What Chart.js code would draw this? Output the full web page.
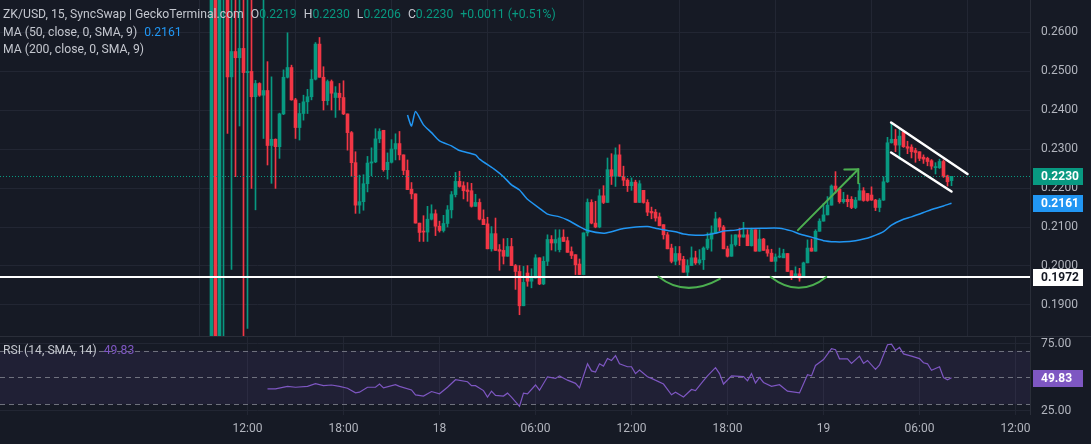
<!DOCTYPE html>
<html>
<head>
<meta charset="utf-8">
<script src="https://cdn.jsdelivr.net/npm/chart.js@4.4.1/dist/chart.umd.min.js"></script>
<style>
  html, body { margin: 0; padding: 0; background: #161a25; }
  #wrap { position: relative; width: 1091px; height: 444px; overflow: hidden; font-family: Roboto, "Noto Sans", sans-serif; }
  canvas { position: absolute; left: 0; }
  #main { top: 0; }
  #rsi { top: 337px; }
  .sep { position: absolute; left: 0; top: 336px; width: 1091px; height: 1px; background: #2a2e39; }
  .legend { position: absolute; left: 3px; font-size: 12.2px; line-height: 17px; color: #c3c6ce; white-space: nowrap; z-index: 5; }
  .legend span { margin-left: 7px; }
  .legend i { font-style: normal; }
  .g { color: #089981; }
  .b { color: #2196f3; }
  .p { color: #7e57c2; }
</style>
</head>
<body>
<div id="wrap">
  <canvas id="main" width="1091" height="336"></canvas>
  <div class="sep"></div>
  <canvas id="rsi" width="1091" height="107"></canvas>
  <div class="legend" style="top:6px">ZK/USD, 15, SyncSwap | GeckoTerminal.com<span>O<i class="g">0.2219</i></span><span>H<i class="g">0.2230</i></span><span>L<i class="g">0.2206</i></span><span>C<i class="g">0.2230</i></span><span class="g">+0.0011 (+0.51%)</span></div>
  <div class="legend" style="top:24px">MA (50, close, 0, SMA, 9)<span class="b">0.2161</span></div>
  <div class="legend" style="top:41px">MA (200, close, 0, SMA, 9)</div>
  <div class="legend" style="top:342px">RSI (14, SMA, 14)<span class="p">49.83</span></div>
</div>
<script>
// 15 minute candles, index 0 = 17th 09:45
var opens = [
  0.150, 0.300, 0.150, 0.285, 0.285, 0.2485, 0.2550, 0.2534, 0.2558, 0.2496,
  0.2499, 0.2434, 0.2468, 0.2438, 0.2450, 0.2309, 0.2325, 0.2306, 0.2390, 0.2484,
  0.2509, 0.2426, 0.2355, 0.2391, 0.2421, 0.2434, 0.2479, 0.2569, 0.2484, 0.2424,
  0.2473, 0.2432, 0.2443, 0.2432, 0.2390, 0.2342, 0.2265, 0.2156, 0.2165, 0.2211,
  0.2264, 0.2267, 0.2326, 0.2348, 0.2247, 0.2266, 0.2300, 0.2314, 0.2285, 0.2245,
  0.2197, 0.2185, 0.2110, 0.2088, 0.2087, 0.2120, 0.2134, 0.2102, 0.2091, 0.2109,
  0.2144, 0.2183, 0.2217, 0.2206, 0.2195, 0.2193, 0.2153, 0.2163, 0.2120, 0.2108,
  0.2044, 0.2083, 0.2042, 0.2040, 0.2025, 0.2050, 0.2001, 0.1986, 0.1898, 0.1982,
  0.1961, 0.1969, 0.2021, 0.1954, 0.2012, 0.2068, 0.2059, 0.2042, 0.2074, 0.2065,
  0.2037, 0.2029, 0.2005, 0.1978, 0.2085, 0.2163, 0.2110, 0.2100, 0.2180, 0.2163,
  0.2247, 0.2230, 0.2285, 0.2230, 0.2220, 0.2206, 0.2215, 0.2163, 0.2194, 0.2163,
  0.2140, 0.2138, 0.2126, 0.2106, 0.2080, 0.2046, 0.2012, 0.2032, 0.2017, 0.1984,
  0.2001, 0.2021, 0.2008, 0.2016, 0.2046, 0.2069, 0.2085, 0.2121, 0.2100, 0.2044,
  0.2025, 0.2055, 0.2080, 0.2074, 0.2080, 0.2052, 0.2093, 0.2038, 0.2069, 0.2042,
  0.2033, 0.2012, 0.2023, 0.2021, 0.2032, 0.1988, 0.1975, 0.1980, 0.1972, 0.2008,
  0.2046, 0.2038, 0.2089, 0.2115, 0.2131, 0.2156, 0.2205, 0.2197, 0.2165, 0.2171,
  0.2171, 0.2150, 0.2169, 0.2193, 0.2186, 0.2182, 0.2169, 0.2150, 0.2169, 0.2216,
  0.2316, 0.2325, 0.2310, 0.2344, 0.2306, 0.2305, 0.2296, 0.2293, 0.2279, 0.2276,
  0.2270, 0.2252, 0.2252, 0.2268, 0.2231, 0.2219
];
var highs = [
  0.300, 0.300, 0.300, 0.300, 0.290, 0.290, 0.290, 0.290, 0.290, 0.290,
  0.290, 0.2476, 0.2470, 0.290, 0.2524, 0.2485, 0.2326, 0.2392, 0.2503, 0.2598,
  0.2515, 0.2430, 0.2417, 0.2438, 0.2453, 0.2503, 0.2573, 0.2586, 0.2511, 0.2477,
  0.2477, 0.2460, 0.2468, 0.2475, 0.2390, 0.2345, 0.2293, 0.2233, 0.2234, 0.2281,
  0.2303, 0.2352, 0.2352, 0.2348, 0.2290, 0.2324, 0.2339, 0.2345, 0.2285, 0.2272,
  0.2214, 0.2185, 0.2110, 0.2129, 0.2153, 0.2157, 0.2144, 0.2115, 0.2130, 0.2155,
  0.2191, 0.2240, 0.2243, 0.2216, 0.2214, 0.2212, 0.2184, 0.2172, 0.2144, 0.2125,
  0.2101, 0.2123, 0.2055, 0.2070, 0.2071, 0.2071, 0.2004, 0.2001, 0.1999, 0.2001,
  0.1993, 0.2029, 0.2021, 0.2024, 0.2080, 0.2078, 0.2093, 0.2093, 0.2093, 0.2074,
  0.2049, 0.2029, 0.2018, 0.2085, 0.2172, 0.2170, 0.2166, 0.2196, 0.2206, 0.2277,
  0.2288, 0.2303, 0.2311, 0.2256, 0.2224, 0.2226, 0.2220, 0.2219, 0.2194, 0.2170,
  0.2151, 0.2145, 0.2136, 0.2106, 0.2086, 0.2056, 0.2050, 0.2050, 0.2025, 0.2016,
  0.2049, 0.2038, 0.2042, 0.2049, 0.2085, 0.2103, 0.2138, 0.2124, 0.2104, 0.2051,
  0.2080, 0.2080, 0.2097, 0.2112, 0.2093, 0.2097, 0.2093, 0.2093, 0.2071, 0.2052,
  0.2043, 0.2031, 0.2046, 0.2043, 0.2032, 0.1988, 0.1998, 0.1994, 0.2010, 0.2067,
  0.2069, 0.2093, 0.2121, 0.2160, 0.2178, 0.2208, 0.2242, 0.2197, 0.2189, 0.2182,
  0.2178, 0.2176, 0.2212, 0.2201, 0.2186, 0.2203, 0.2171, 0.2173, 0.2229, 0.2330,
  0.2368, 0.2350, 0.2350, 0.2348, 0.2320, 0.2311, 0.2302, 0.2293, 0.2285, 0.2279,
  0.2273, 0.2265, 0.2274, 0.2272, 0.2233, 0.2230
];
var lows = [
  0.150, 0.150, 0.150, 0.150, 0.2340, 0.1991, 0.2229, 0.2359, 0.1700, 0.1840,
  0.2199, 0.2144, 0.2435, 0.2327, 0.2259, 0.2212, 0.2199, 0.2276, 0.2388, 0.2482,
  0.2425, 0.2327, 0.2323, 0.2374, 0.2391, 0.2426, 0.2477, 0.2484, 0.2400, 0.2413,
  0.2400, 0.2381, 0.2400, 0.2388, 0.2297, 0.2229, 0.2135, 0.2135, 0.2143, 0.2190,
  0.2231, 0.2265, 0.2316, 0.2243, 0.2223, 0.2264, 0.2272, 0.2272, 0.2234, 0.2196,
  0.2172, 0.2110, 0.2063, 0.2063, 0.2063, 0.2118, 0.2078, 0.2087, 0.2087, 0.2100,
  0.2123, 0.2177, 0.2202, 0.2172, 0.2166, 0.2151, 0.2153, 0.2118, 0.2106, 0.2044,
  0.2038, 0.2040, 0.1989, 0.2005, 0.2025, 0.2001, 0.1940, 0.1875, 0.1898, 0.1948,
  0.1944, 0.1969, 0.1952, 0.1952, 0.2001, 0.2041, 0.2038, 0.2036, 0.2063, 0.2035,
  0.2019, 0.1978, 0.1978, 0.1978, 0.2077, 0.2108, 0.2098, 0.2098, 0.2160, 0.2163,
  0.2209, 0.2204, 0.2230, 0.2206, 0.2191, 0.2194, 0.2163, 0.2163, 0.2161, 0.2129,
  0.2121, 0.2115, 0.2103, 0.2069, 0.2044, 0.2008, 0.2003, 0.2003, 0.1984, 0.1974,
  0.2001, 0.2004, 0.2004, 0.1991, 0.2042, 0.2038, 0.2085, 0.2090, 0.2044, 0.2023,
  0.2025, 0.2051, 0.2052, 0.2074, 0.2052, 0.2051, 0.2038, 0.2038, 0.2040, 0.2025,
  0.2012, 0.1986, 0.2021, 0.2021, 0.1986, 0.1965, 0.1972, 0.1961, 0.1972, 0.2008,
  0.2038, 0.2038, 0.2089, 0.2115, 0.2131, 0.2156, 0.2187, 0.2161, 0.2161, 0.2152,
  0.2147, 0.2147, 0.2169, 0.2166, 0.2166, 0.2168, 0.2142, 0.2139, 0.2168, 0.2214,
  0.2315, 0.2293, 0.2274, 0.2304, 0.2288, 0.2277, 0.2266, 0.2270, 0.2263, 0.2257,
  0.2248, 0.2236, 0.2250, 0.2227, 0.2205, 0.2206
];
var closes = [
  0.300, 0.150, 0.300, 0.290, 0.2485, 0.2550, 0.2534, 0.2558, 0.2496, 0.2499,
  0.2434, 0.2468, 0.2438, 0.2450, 0.2309, 0.2325, 0.2306, 0.2390, 0.2484, 0.2509,
  0.2426, 0.2355, 0.2391, 0.2421, 0.2434, 0.2479, 0.2569, 0.2484, 0.2424, 0.2473,
  0.2443, 0.2444, 0.2432, 0.2390, 0.2342, 0.2265, 0.2156, 0.2165, 0.2211, 0.2264,
  0.2267, 0.2326, 0.2345, 0.2247, 0.2266, 0.2300, 0.2314, 0.2285, 0.2245, 0.2196,
  0.2185, 0.2110, 0.2086, 0.2087, 0.2120, 0.2134, 0.2102, 0.2091, 0.2109, 0.2144,
  0.2183, 0.2217, 0.2204, 0.2193, 0.2191, 0.2153, 0.2163, 0.2120, 0.2106, 0.2044,
  0.2083, 0.2040, 0.2038, 0.2025, 0.2050, 0.2001, 0.1986, 0.1898, 0.1958, 0.1961,
  0.1969, 0.2021, 0.1954, 0.2012, 0.2068, 0.2059, 0.2068, 0.2072, 0.2063, 0.2035,
  0.2027, 0.2003, 0.1978, 0.2085, 0.2163, 0.2110, 0.2100, 0.2180, 0.2163, 0.2247,
  0.2230, 0.2285, 0.2230, 0.2220, 0.2206, 0.2215, 0.2163, 0.2211, 0.2163, 0.2138,
  0.2136, 0.2123, 0.2103, 0.2080, 0.2044, 0.2012, 0.2032, 0.2015, 0.1984, 0.2001,
  0.2021, 0.2008, 0.2016, 0.2046, 0.2069, 0.2085, 0.2121, 0.2100, 0.2044, 0.2025,
  0.2055, 0.2080, 0.2074, 0.2080, 0.2052, 0.2093, 0.2038, 0.2069, 0.2040, 0.2033,
  0.2012, 0.2023, 0.2024, 0.2032, 0.1986, 0.1975, 0.1980, 0.1969, 0.2008, 0.2046,
  0.2038, 0.2089, 0.2115, 0.2131, 0.2156, 0.2205, 0.2197, 0.2165, 0.2171, 0.2165,
  0.2150, 0.2169, 0.2193, 0.2168, 0.2168, 0.2169, 0.2150, 0.2169, 0.2216, 0.2316,
  0.2325, 0.2310, 0.2333, 0.2306, 0.2302, 0.2293, 0.2291, 0.2276, 0.2274, 0.2268,
  0.2256, 0.2255, 0.2268, 0.2229, 0.2216, 0.2230
];

// MA(50) (candle index, value)
var maIdx = [49, 50, 51, 53, 55, 57, 60, 62, 66, 67, 71, 73, 75, 77, 79, 82, 84, 87, 89, 92,
  94, 98, 100, 103, 105, 109, 111, 114, 116, 118, 121, 123, 126, 128, 131, 133, 138, 142, 145, 147,
  150, 153, 156, 158, 161, 163, 165, 168, 170, 173, 175, 178, 180, 183, 185];
var maVal = [0.2387, 0.2359, 0.2396, 0.2362, 0.2342, 0.2321, 0.2308, 0.2296, 0.2285, 0.2274,
  0.2246, 0.2229, 0.2208, 0.2195, 0.2171, 0.2148, 0.2133, 0.2126, 0.2118, 0.2101,
  0.2091, 0.2084, 0.2088, 0.2096, 0.2099, 0.2101, 0.2097, 0.2091, 0.2088, 0.2082,
  0.2079, 0.2079, 0.2084, 0.2090, 0.2092, 0.2096, 0.2097, 0.2097, 0.2090, 0.2082,
  0.2074, 0.2065, 0.2062, 0.2062, 0.2065, 0.2069, 0.2075, 0.2088, 0.2105, 0.2120,
  0.2126, 0.2137, 0.2145, 0.2154, 0.2161];

// RSI(14)
var rsiIdx = [14, 16, 19, 21, 24, 26, 28, 30, 32, 34, 36, 37, 39, 41, 42, 43, 46, 47, 50, 51,
  53, 55, 57, 59, 61, 64, 65, 66, 68, 69, 70, 71, 73, 74, 75, 77, 78, 79, 81, 82,
  84, 86, 87, 89, 91, 92, 94, 95, 96, 97, 98, 99, 100, 101, 102, 104, 105, 106, 107, 109,
  110, 113, 115, 116, 118, 120, 121, 123, 124, 126, 127, 128, 130, 133, 134, 135, 136, 137, 138, 140,
  142, 144, 147, 149, 150, 151, 153, 155, 156, 157, 159, 160, 162, 163, 164, 166, 167, 169, 170, 171,
  172, 173, 175, 177, 178, 179, 180, 182, 183, 184, 185];
var rsiVal = [41.5, 41.5, 43.4, 42.7, 43.4, 45.4, 43.9, 44.4, 43.4, 42.0, 38.5, 39.0, 42.7, 42.7, 45.1, 42.2, 44.6, 43.4, 40.7, 37.0,
  36.1, 39.5, 37.8, 42.7, 48.3, 46.8, 43.9, 43.9, 40.2, 35.4, 39.8, 36.6, 36.1, 38.3, 35.4, 28.5, 38.3, 37.8, 44.4, 40.5,
  50.5, 49.3, 51.2, 48.0, 45.6, 42.2, 60.2, 54.9, 54.1, 60.2, 58.5, 64.1, 62.7, 66.3, 60.2, 58.0, 58.0, 52.9, 55.6, 50.5,
  49.3, 45.1, 37.1, 39.0, 35.4, 41.0, 40.2, 47.6, 51.2, 57.3, 52.9, 45.1, 51.2, 50.7, 47.6, 52.9, 45.9, 50.0, 46.3, 43.4,
  44.6, 39.8, 38.5, 52.0, 51.2, 59.0, 63.4, 71.5, 70.7, 63.9, 63.9, 60.5, 65.9, 60.5, 62.7, 56.1, 59.3, 74.4, 74.9, 70.2,
  72.4, 67.6, 65.9, 64.1, 61.0, 60.2, 55.4, 58.0, 50.0, 48.3, 49.83];

var priceTicks = [0.19, 0.20, 0.21, 0.22, 0.23, 0.24, 0.25, 0.26];
var rsiTicks = [25, 75];
var rsiLevels = [70, 50, 30];
var timeTickIdx = [9, 33, 57, 81, 105, 129, 153, 177, 201];
var timeTickLabels = ['12:00', '18:00', '18', '06:00', '12:00', '18:00', '19', '06:00', '12:00'];

// drawings on the chart, in (candle index, price)
var supportLevel = 0.1972;
var lastPrice = 0.2230;
var maLast = 0.2161;
var rsiLast = 49.83;
var cupArcs = [
  [111.7, 0.1973, 118.9, 0.1944, 127.1, 0.1967],
  [139.8, 0.1972, 146.8, 0.1944, 153.7, 0.1972]
];
var trendArrow = [146.6, 0.2092, 161.7, 0.2248];
var flagUpper = [169.9, 0.2368, 189.0, 0.2236];
var flagLower = [169.9, 0.2291, 185.0, 0.2191];

var upColor = '#089981';
var downColor = '#f23645';
var gridColor = '#222633';
var textColor = '#b2b5be';
var xMin = -52.875, xMax = 204.625;

var candleColors = closes.map(function (c, k) { return c >= opens[k] ? upColor : downColor; });

function drawBox(ctx, y, bg, fg, text) {
  ctx.fillStyle = bg;
  ctx.fillRect(1033, Math.round(y) - 8, 50, 17);
  ctx.fillStyle = fg;
  ctx.font = 'bold 12px Roboto, sans-serif';
  ctx.textAlign = 'left';
  ctx.textBaseline = 'middle';
  ctx.fillText(text, 1041, Math.round(y) + 1);
}

// keep the plot area edge to edge: no room reserved for end labels
function noPad(s) { s.paddingTop = 0; s.paddingBottom = 0; s.paddingLeft = 0; s.paddingRight = 0; }

var mainDecor = {
  id: 'mainDecor',
  afterDatasetsDraw: function (chart) {
    var ctx = chart.ctx, a = chart.chartArea, x = chart.scales.x, y = chart.scales.y;
    function pt(i, p) { return { x: x.getPixelForValue(i), y: y.getPixelForValue(p) }; }
    ctx.save();
    ctx.beginPath();
    ctx.rect(a.left, a.top, a.right - a.left, a.bottom - a.top);
    ctx.clip();

    var yl = Math.round(y.getPixelForValue(lastPrice)) + 0.5;
    ctx.strokeStyle = upColor;
    ctx.lineWidth = 1;
    ctx.setLineDash([1, 2]);
    ctx.beginPath(); ctx.moveTo(a.left, yl); ctx.lineTo(a.right, yl); ctx.stroke();
    ctx.setLineDash([]);

    var ys = Math.round(y.getPixelForValue(supportLevel));
    ctx.strokeStyle = '#ffffff';
    ctx.lineWidth = 2;
    ctx.beginPath(); ctx.moveTo(a.left, ys); ctx.lineTo(a.right, ys); ctx.stroke();

    ctx.strokeStyle = '#4caf50';
    ctx.lineWidth = 2;
    ctx.lineCap = 'round';
    cupArcs.forEach(function (c) {
      var p0 = pt(c[0], c[1]), p1 = pt(c[2], c[3]), p2 = pt(c[4], c[5]);
      var cx = 2 * p1.x - (p0.x + p2.x) / 2, cy = 2 * p1.y - (p0.y + p2.y) / 2;
      ctx.beginPath(); ctx.moveTo(p0.x, p0.y); ctx.quadraticCurveTo(cx, cy, p2.x, p2.y); ctx.stroke();
    });

    var s = pt(trendArrow[0], trendArrow[1]), e = pt(trendArrow[2], trendArrow[3]);
    var ang = Math.atan2(e.y - s.y, e.x - s.x);
    ctx.beginPath(); ctx.moveTo(s.x, s.y); ctx.lineTo(e.x, e.y); ctx.stroke();
    ctx.beginPath();
    ctx.moveTo(e.x + 14 * Math.cos(ang + Math.PI - 0.78), e.y + 14 * Math.sin(ang + Math.PI - 0.78));
    ctx.lineTo(e.x, e.y);
    ctx.lineTo(e.x + 14 * Math.cos(ang + Math.PI + 0.78), e.y + 14 * Math.sin(ang + Math.PI + 0.78));
    ctx.stroke();

    ctx.strokeStyle = '#ffffff';
    ctx.lineWidth = 2.5;
    [flagUpper, flagLower].forEach(function (f) {
      var p0 = pt(f[0], f[1]), p1 = pt(f[2], f[3]);
      ctx.beginPath(); ctx.moveTo(p0.x, p0.y); ctx.lineTo(p1.x, p1.y); ctx.stroke();
    });
    ctx.restore();
  },
  afterDraw: function (chart) {
    var ctx = chart.ctx, y = chart.scales.y;
    ctx.save();
    ctx.strokeStyle = '#2a2e39';
    ctx.lineWidth = 1;
    ctx.beginPath(); ctx.moveTo(1030.5, 0); ctx.lineTo(1030.5, 336); ctx.stroke();
    drawBox(ctx, y.getPixelForValue(lastPrice), upColor, '#ffffff', lastPrice.toFixed(4));
    drawBox(ctx, y.getPixelForValue(maLast), '#2196f3', '#ffffff', maLast.toFixed(4));
    drawBox(ctx, y.getPixelForValue(supportLevel), '#ffffff', '#131722', supportLevel.toFixed(4));
    ctx.restore();
  }
};

var rsiDecor = {
  id: 'rsiDecor',
  beforeDatasetsDraw: function (chart) {
    var ctx = chart.ctx, a = chart.chartArea, y = chart.scales.y;
    ctx.save();
    var y70 = y.getPixelForValue(70), y30 = y.getPixelForValue(30);
    ctx.fillStyle = 'rgba(126, 87, 194, 0.1)';
    ctx.fillRect(a.left, y70, a.right - a.left, y30 - y70);
    ctx.strokeStyle = 'rgba(120, 123, 134, 0.9)';
    ctx.lineWidth = 1;
    ctx.setLineDash([5, 4]);
    rsiLevels.forEach(function (lv) {
      var yy = Math.round(y.getPixelForValue(lv)) + 0.5;
      ctx.beginPath(); ctx.moveTo(a.left, yy); ctx.lineTo(a.right, yy); ctx.stroke();
    });
    ctx.restore();
  },
  afterDraw: function (chart) {
    var ctx = chart.ctx, y = chart.scales.y;
    ctx.save();
    ctx.strokeStyle = '#2a2e39';
    ctx.beginPath(); ctx.moveTo(1030.5, 0); ctx.lineTo(1030.5, 78); ctx.stroke();
    drawBox(ctx, y.getPixelForValue(rsiLast), '#7e57c2', '#ffffff', rsiLast.toFixed(2));
    ctx.restore();
  }
};

var idx = closes.map(function (c, k) { return k; });

new Chart(document.getElementById('main').getContext('2d'), {
  type: 'bar',
  data: {
    datasets: [
      {
        type: 'line',
        data: maIdx.map(function (v, k) { return { x: v, y: maVal[k] }; }),
        borderColor: '#2196f3',
        borderWidth: 1.5,
        pointRadius: 0,
        tension: 0.2,
        order: 0
      },
      {
        data: idx.map(function (k) { return { x: k, y: [opens[k], closes[k]] }; }),
        backgroundColor: candleColors,
        barThickness: 3,
        minBarLength: 1,
        grouped: false,
        order: 1
      },
      {
        data: idx.map(function (k) { return { x: k, y: [lows[k], highs[k]] }; }),
        backgroundColor: candleColors,
        barThickness: 1,
        grouped: false,
        order: 2
      }
    ]
  },
  options: {
    responsive: false,
    animation: false,
    devicePixelRatio: 1,
    layout: { padding: 0 },
    plugins: { legend: { display: false }, tooltip: { enabled: false } },
    scales: {
      x: {
        type: 'linear', min: xMin, max: xMax, offset: false,
        afterBuildTicks: function (s) { s.ticks = timeTickIdx.map(function (v) { return { value: v }; }); },
        afterFit: function (s) { s.height = 0; noPad(s); },
        ticks: { display: false },
        grid: { color: gridColor, drawTicks: false },
        border: { display: false }
      },
      y: {
        position: 'right', min: 0.18205, max: 0.26821,
        afterBuildTicks: function (s) { s.ticks = priceTicks.map(function (v) { return { value: v }; }); },
        afterFit: function (s) { s.width = 61; noPad(s); },
        ticks: {
          color: textColor, padding: 11, font: { family: 'Roboto', size: 12 },
          callback: function (v) { return v.toFixed(4); }
        },
        grid: { color: gridColor, drawTicks: false },
        border: { display: false }
      }
    }
  },
  plugins: [mainDecor]
});

new Chart(document.getElementById('rsi').getContext('2d'), {
  type: 'line',
  data: {
    datasets: [{
      data: rsiIdx.map(function (v, k) { return { x: v, y: rsiVal[k] }; }),
      borderColor: '#7e57c2',
      borderWidth: 1.2,
      pointRadius: 0,
      tension: 0
    }]
  },
  options: {
    responsive: false,
    animation: false,
    devicePixelRatio: 1,
    layout: { padding: 0 },
    plugins: { legend: { display: false }, tooltip: { enabled: false } },
    scales: {
      x: {
        type: 'linear', min: xMin, max: xMax, offset: false,
        afterBuildTicks: function (s) { s.ticks = timeTickIdx.map(function (v) { return { value: v }; }); },
        afterFit: function (s) { s.height = 29; noPad(s); },
        ticks: {
          color: textColor, padding: 7, maxRotation: 0, autoSkip: false,
          font: { family: 'Roboto', size: 12 },
          callback: function (v) { return timeTickLabels[timeTickIdx.indexOf(v)]; }
        },
        grid: { color: gridColor, drawTicks: false },
        border: { display: false }
      },
      y: {
        position: 'right', min: 22.0, max: 80.2,
        afterBuildTicks: function (s) { s.ticks = rsiTicks.map(function (v) { return { value: v }; }); },
        afterFit: function (s) { s.width = 61; noPad(s); },
        ticks: {
          color: textColor, padding: 11, font: { family: 'Roboto', size: 12 },
          callback: function (v) { return v.toFixed(2); }
        },
        grid: { color: gridColor, drawTicks: false },
        border: { display: false }
      }
    }
  },
  plugins: [rsiDecor]
});
</script>
</body>
</html>
